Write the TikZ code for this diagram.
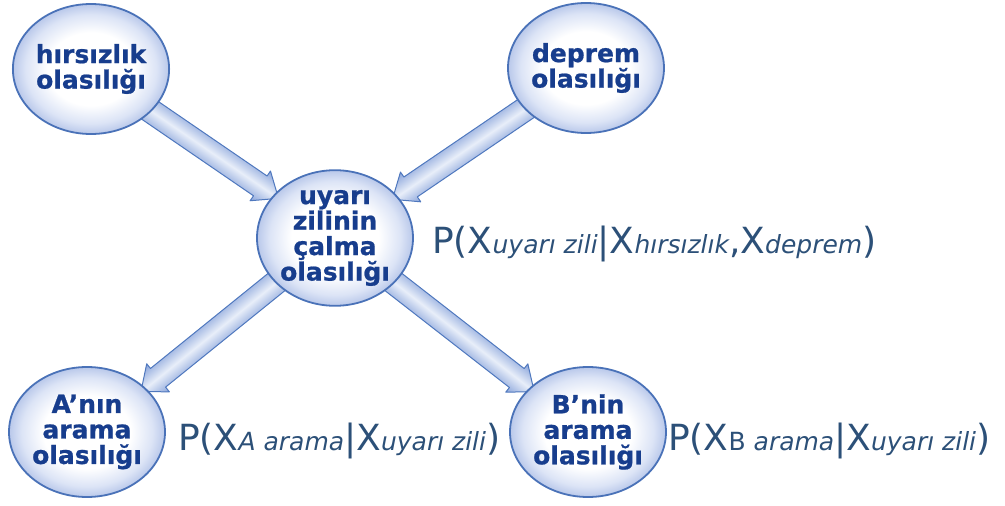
\documentclass[tikz,border=0pt]{standalone}
\usepackage{fontspec}
\setmainfont{DejaVu Sans}
\newfontfamily\nodefont{DejaVu Sans Bold}[FakeBold=0.8]
\usetikzlibrary{calc,shapes.geometric}

\definecolor{nodeText}{HTML}{173D8D}
\definecolor{rimBlue}{HTML}{4A72B8}
\definecolor{bubbleMid}{HTML}{DCE4F6}
\definecolor{bubbleEdge}{HTML}{B9C8EA}
\definecolor{eqText}{HTML}{2C5078}
\definecolor{arrowRim}{HTML}{4F78BE}
\definecolor{arrowDark}{HTML}{88A3DA}
\definecolor{arrowLight}{HTML}{E8EEF9}

\pgfdeclarelayer{bg}
\pgfsetlayers{bg,main}

% white core fading to pale blue near the rim
\pgfdeclareradialshading{bubbleglow}{\pgfpoint{0bp}{0bp}}{%
  color(0bp)=(white); color(14bp)=(white); color(21bp)=(bubbleMid);
  color(25bp)=(bubbleEdge); color(50bp)=(bubbleEdge)}

\newcommand\subfont{\fontsize{25}{25}\selectfont}

\tikzset{
  bubble/.style={ellipse, draw=rimBlue, line width=1.8pt, shade, shading=bubbleglow,
    minimum width=156pt, minimum height=130pt, inner sep=0pt,
    text=nodeText, align=center, font=\nodefont\fontsize{25}{25.5}\selectfont},
  formula/.style={anchor=base west, inner sep=0pt, text=eqText,
    font=\fontsize{36}{36}\selectfont},
  arrowbody/.style={draw=arrowRim, line width=1pt, line join=round,
    top color=arrowDark, bottom color=arrowDark, middle color=arrowLight},
}

% block arrow from one anchor to another, drawn in a rotated frame;
% the head reaches a little way under the target bubble
\newcommand\flowarrow[2]{%
  \path let \p1=(#1), \p2=(#2),
    \n1={atan2(\y2-\y1,\x2-\x1)}, \n2={veclen(\x2-\x1,\y2-\y1)+6} in
    \pgfextra{\xdef\arrAng{\n1}\xdef\arrLen{\n2}\xdef\arrX{\x1}\xdef\arrY{\y1}};
  \begin{scope}[transform canvas={shift={(\arrX,\arrY)},rotate=\arrAng}]
    \path[arrowbody] (-4pt,-12pt) -- (\arrLen-22pt,-12pt) -- (\arrLen-22pt,-18pt)
      -- (\arrLen,0pt) -- (\arrLen-22pt,18pt) -- (\arrLen-22pt,12pt)
      -- (-4pt,12pt) -- cycle;
  \end{scope}}

\begin{document}
\begin{tikzpicture}[x=1pt,y=-1pt]
  \useasboundingbox (0,0) rectangle (1005,506);

  % causes, alarm and the two callers
  \node[bubble] (h) at (91,69) {hırsızlık\\olasılığı};
  \node[bubble] (d) at (586,68) {deprem\\olasılığı};
  \node[bubble] (u) at (335,238) {uyarı\\zilinin\\çalma\\olasılığı};
  \node[bubble] (a) at (87,432) {A’nın\\arama\\olasılığı};
  \node[bubble] (b) at (588,432) {B’nin\\arama\\olasılığı};

  % conditional probability labels
  \node[formula] (pu) at (432,253)
    {P(X{\subfont\itshape uyarı zili}|X{\subfont\itshape hırsızlık},X{\subfont\itshape deprem})};
  \node[formula] (pa) at (178,450)
    {P(X{\subfont\itshape A arama}|X{\subfont\itshape uyarı zili})};
  \node[formula] (pb) at (668,450)
    {P(X{\subfont B \itshape arama}|X{\subfont\itshape uyarı zili})};

  % dependencies
  \begin{pgfonlayer}{bg}
    \flowarrow{h.-35}{u.145}
    \flowarrow{d.214}{u.34}
    \flowarrow{u.217}{a.37}
    \flowarrow{u.-37}{b.143}
  \end{pgfonlayer}
\end{tikzpicture}
\end{document}
